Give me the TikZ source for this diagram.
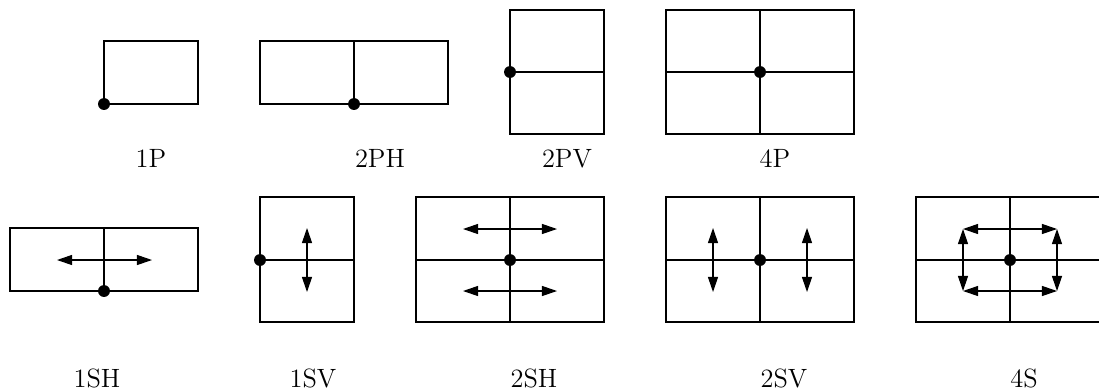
\documentclass[tikz,border=0pt]{standalone}
\usetikzlibrary{arrows.meta}
\begin{document}
\begin{tikzpicture}[x=0.01595cm,y=-0.01595cm,
  panel/.style={draw, line width=0.5pt},
  hinge/.style={circle, fill, inner sep=0pt, minimum size=0.19cm},
  slide/.style={line width=0.5pt,
    {Triangle[length=0.24cm,width=0.16cm]}-{Triangle[length=0.24cm,width=0.16cm]}},
  caption/.style={font=\fontsize{12}{14}\selectfont, inner sep=0pt, anchor=base}]
\useasboundingbox (0,0) rectangle (1099,390);
\clip (0,0) rectangle (1099,390);

% ---- top row: fixed panels ----
% 1P
\draw[panel] (104,41) rectangle (198,104);
\node[hinge] (h1p) at (104,104) {};
\node[caption] (l1p) at (151,167) {1P};

% 2PH
\draw[panel] (260,41) rectangle (448,104);
\draw[panel] (354,41) -- (354,104);
\node[hinge] (h2ph) at (354,104) {};
\node[caption] (l2ph) at (380,167) {2PH};

% 2PV
\draw[panel] (510,10) rectangle (604,134);
\draw[panel] (510,72) -- (604,72);
\node[hinge] (h2pv) at (510,72) {};
\node[caption] (l2pv) at (567,167) {2PV};

% 4P
\draw[panel] (666,10) rectangle (854,134);
\draw[panel] (760,10) -- (760,134);
\draw[panel] (666,72) -- (854,72);
\node[hinge] (h4p) at (760,72) {};
\node[caption] (l4p) at (775,167) {4P};

% ---- bottom row: sliding panels ----
% 1SH
\draw[panel] (10,228) rectangle (198,291);
\draw[panel] (104,228) -- (104,291);
\node[hinge] (h1sh) at (104,291) {};
\coordinate (a1shL) at (57,260);
\coordinate (a1shR) at (152,260);
\draw[slide] (a1shL) -- (a1shR);
\node[caption] (l1sh) at (97,387) {1SH};

% 1SV
\draw[panel] (260,197) rectangle (354,322);
\draw[panel] (260,260) -- (354,260);
\node[hinge] (h1sv) at (260,260) {};
\coordinate (a1svT) at (307,228);
\coordinate (a1svB) at (307,292);
\draw[slide] (a1svT) -- (a1svB);
\node[caption] (l1sv) at (313,387) {1SV};

% 2SH
\draw[panel] (416,197) rectangle (604,322);
\draw[panel] (510,197) -- (510,322);
\draw[panel] (416,260) -- (604,260);
\node[hinge] (h2sh) at (510,260) {};
\coordinate (a2shTL) at (463,229);
\coordinate (a2shTR) at (557,229);
\coordinate (a2shBL) at (463,291);
\coordinate (a2shBR) at (557,291);
\draw[slide] (a2shTL) -- (a2shTR);
\draw[slide] (a2shBL) -- (a2shBR);
\node[caption] (l2sh) at (534,387) {2SH};

% 2SV
\draw[panel] (666,197) rectangle (854,322);
\draw[panel] (760,197) -- (760,322);
\draw[panel] (666,260) -- (854,260);
\node[hinge] (h2sv) at (760,260) {};
\coordinate (a2svLT) at (713,228);
\coordinate (a2svLB) at (713,292);
\coordinate (a2svRT) at (807,228);
\coordinate (a2svRB) at (807,292);
\draw[slide] (a2svLT) -- (a2svLB);
\draw[slide] (a2svRT) -- (a2svRB);
\node[caption] (l2sv) at (784,387) {2SV};

% 4S
\draw[panel] (916,197) rectangle (1104,322);
\draw[panel] (1010,197) -- (1010,322);
\draw[panel] (916,260) -- (1104,260);
\node[hinge] (h4s) at (1010,260) {};
\coordinate (a4sTL) at (963,229);
\coordinate (a4sTR) at (1057,229);
\coordinate (a4sBR) at (1057,291);
\coordinate (a4sBL) at (963,291);
\draw[slide] (a4sTL) -- (a4sTR);
\draw[slide] (a4sTR) -- (a4sBR);
\draw[slide] (a4sBR) -- (a4sBL);
\draw[slide] (a4sBL) -- (a4sTL);
\node[caption] (l4s) at (1024,387) {4S};
\end{tikzpicture}
\end{document}
